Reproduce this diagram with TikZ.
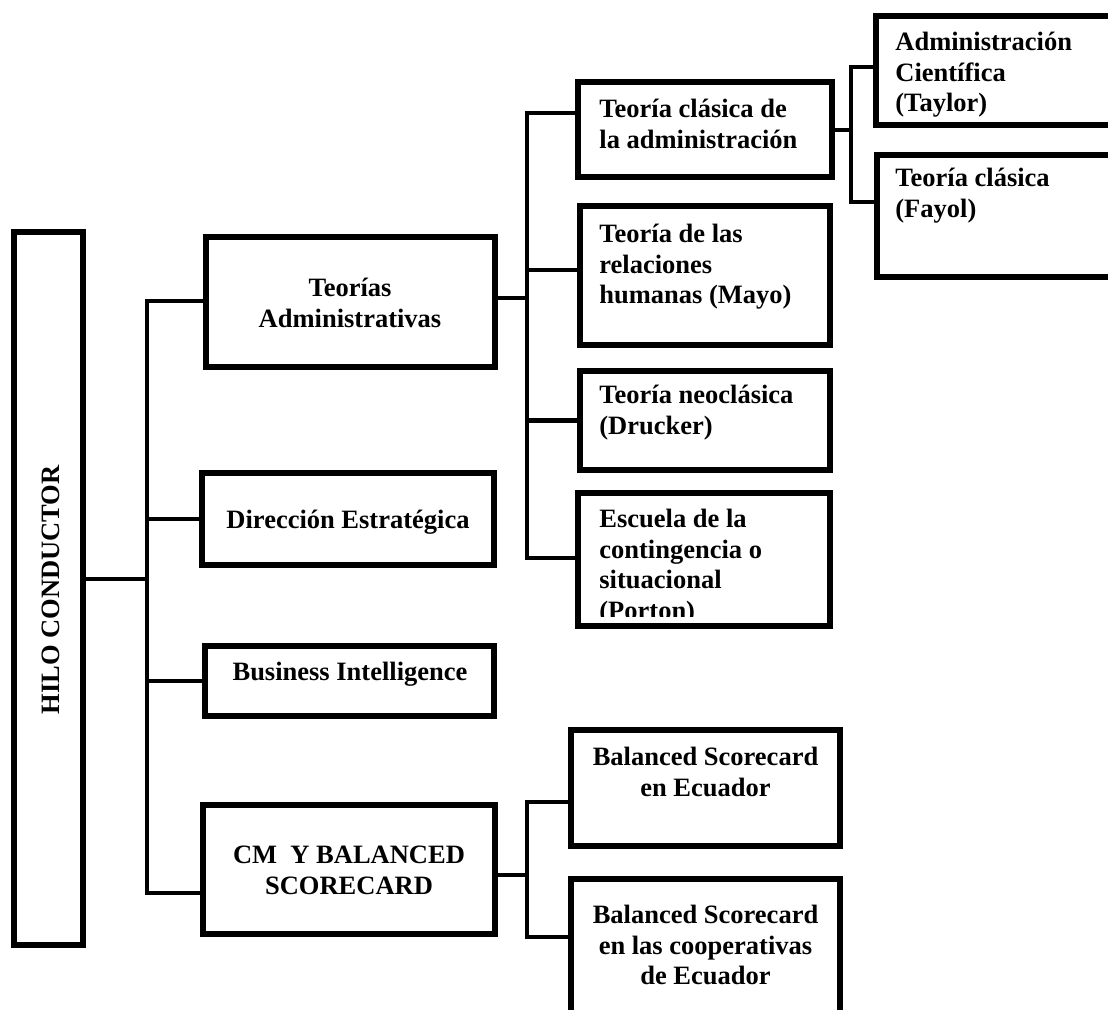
\documentclass[tikz,border=0pt]{standalone}
\usepackage{fontspec}
\setmainfont{Liberation Serif}
% invisible strut fixing the top of every label's first line
\newcommand{\lblstrut}{\rule{0pt}{14pt}}
% box given by its outer edges: name, left, right, top, bottom
\newcommand{\mkbox}[5]{%
  \node[box, minimum width={(#3-#2-5.6)*0.5pt}, minimum height={(#5-#4-5.6)*0.5pt}]
    (#1) at ({(#2+#3)/2},{(#4+#5)/2}) {};}
\begin{document}
\begin{tikzpicture}[x=0.5pt,y=-0.5pt,
  box/.style={draw=black, line width=2.8pt, inner sep=0pt, outer sep=1.4pt},
  conn/.style={draw=black, line width=2.1pt},
  lbl/.style={inner sep=0pt, font=\fontsize{13.25}{15.3}\selectfont\bfseries},
  ]
\useasboundingbox (0,0) rectangle (1108,1009);
\clip (0,0) rectangle (1108,1009);

% ---- boxes ----
\mkbox{hilo}{11}{86}{229}{948}
\mkbox{ta}{203}{498}{234}{370}
\mkbox{dir}{199}{497}{470}{568}
\mkbox{bi}{202}{497}{643}{719}
\mkbox{cm}{200}{498}{802}{937}
\mkbox{tc}{575}{835}{79}{180}
\mkbox{rh}{577}{833}{203}{348}
\mkbox{neo}{577}{833}{368}{473}
\mkbox{esc}{575}{833}{490}{629}
\mkbox{ac}{873}{1125}{13}{128}
\mkbox{fay}{874}{1125}{152}{280}
\mkbox{be}{568}{843}{727}{849}
\mkbox{bc}{568}{843}{876}{1040}

% ---- connectors ----
\coordinate (j1) at (147,579);
\coordinate (s1a) at (147,301);
\coordinate (s1b) at (147,893);
\draw[conn] (hilo.east |- j1) -- (j1);
\draw[conn] (ta.west |- s1a) -- (s1a) -- (s1b) -- (cm.west |- s1b);
\draw[conn] (dir.west) -- (dir.west -| s1a);
\draw[conn] (bi.west) -- (bi.west -| s1a);

\coordinate (s2a) at (527,113);
\coordinate (s2b) at (527,558);
\coordinate (j2) at (527,298);
\coordinate (r2) at (527,270);
\draw[conn] (tc.west |- s2a) -- (s2a) -- (s2b) -- (esc.west |- s2b);
\draw[conn] (ta.east |- j2) -- (j2);
\draw[conn] (rh.west |- r2) -- (r2);
\draw[conn] (neo.west) -- (neo.west -| s2a);

\coordinate (s3a) at (851,67);
\coordinate (s3b) at (851,202);
\coordinate (j3) at (851,130);
\draw[conn] (ac.west |- s3a) -- (s3a) -- (s3b) -- (fay.west |- s3b);
\draw[conn] (tc.east |- j3) -- (j3);

\coordinate (s4a) at (527,802);
\coordinate (s4b) at (527,937);
\coordinate (j4) at (527,875);
\draw[conn] (be.west |- s4a) -- (s4a) -- (s4b) -- (bc.west |- s4b);
\draw[conn] (cm.east |- j4) -- (j4);

% ---- labels ----
\node[lbl, rotate=90, anchor=base] (hilo-t) at (59,590) {HILO CONDUCTOR};
\node[lbl, anchor=north, align=center] (ta-t) at (350,268) {\lblstrut Teorías\\Administrativas};
\node[lbl, anchor=north, align=center] (dir-t) at (348,500) {\lblstrut Dirección Estratégica};
\node[lbl, anchor=north, align=center] (bi-t) at (350,652) {\lblstrut Business Intelligence};
\node[lbl, anchor=north, align=center] (cm-t) at (349,835) {\lblstrut CM~~Y BALANCED\\SCORECARD};
\node[lbl, anchor=north west, align=left] (tc-t) at (599,89) {\lblstrut Teoría clásica de\\la administración};
\node[lbl, anchor=north west, align=left] (rh-t) at (599,214) {\lblstrut Teoría de las\\relaciones\\humanas (Mayo)};
\node[lbl, anchor=north west, align=left] (neo-t) at (599,375) {\lblstrut Teoría neoclásica\\(Drucker)};
\begin{scope}
  \clip (575,490) rectangle (833,616);
  \node[lbl, anchor=north west, align=left] (esc-t) at (599,499) {\lblstrut Escuela de la\\contingencia o\\situacional\\(Porton)};
\end{scope}
\node[lbl, anchor=north west, align=left] (ac-t) at (895,22) {\lblstrut Administración\\Científica\\(Taylor)};
\node[lbl, anchor=north west, align=left] (fay-t) at (895,158) {\lblstrut Teoría clásica\\(Fayol)};
\node[lbl, anchor=north, align=center] (be-t) at (705.5,737) {\lblstrut Balanced Scorecard\\en Ecuador};
\node[lbl, anchor=north, align=center] (bc-t) at (705.5,895) {\lblstrut Balanced Scorecard\\en las cooperativas\\de Ecuador};
\end{tikzpicture}
\end{document}
